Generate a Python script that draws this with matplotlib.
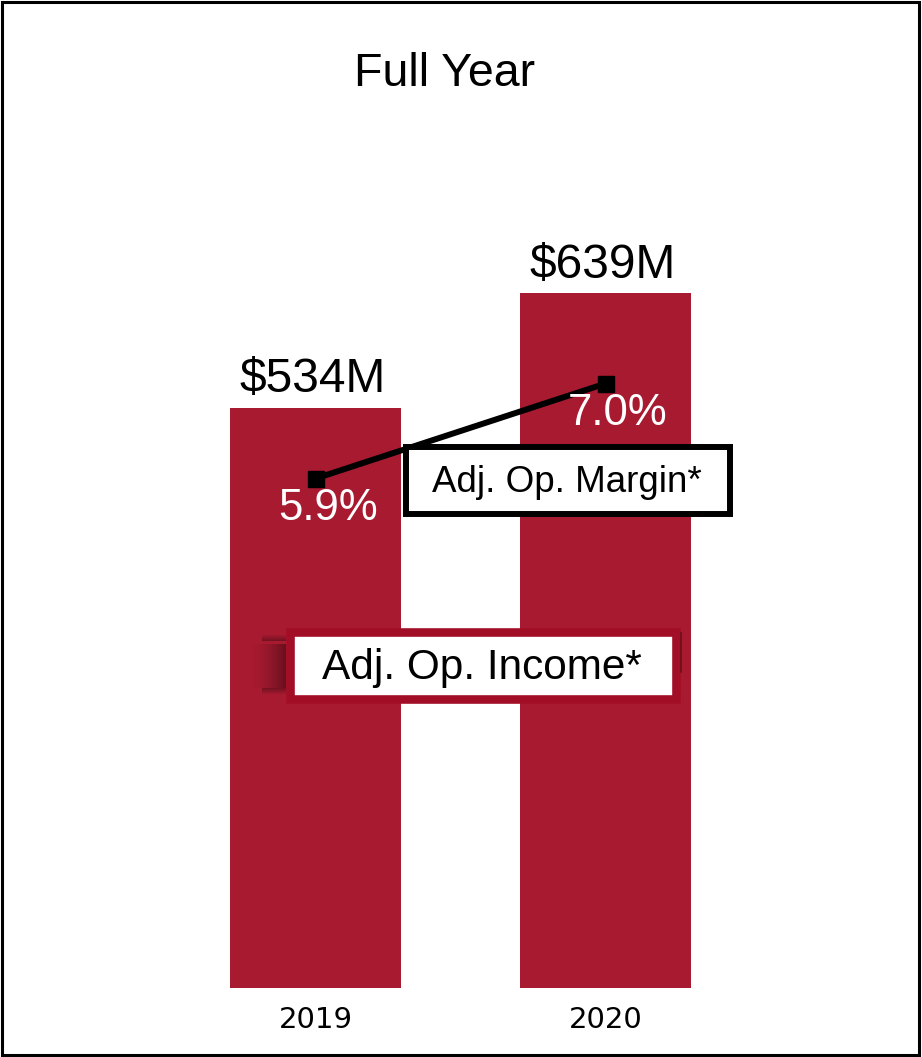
import matplotlib
matplotlib.use("Agg")
import matplotlib.pyplot as plt
import matplotlib.transforms as mtransforms
from matplotlib.patches import Rectangle

plt.rcParams['font.family'] = ['Liberation Sans', 'DejaVu Sans']

years = ['2019', '2020']
op_income = [534, 639]          # $M
op_margin = [5.9, 7.0]          # %

bar_red = '#A71A30'
box_red = '#A30E27'

W, H = 922, 1057
fig = plt.figure(figsize=(W / 100, H / 100), dpi=100)
# pixel coords measured from the top-left corner
px = mtransforms.Affine2D().scale(1 / W, -1 / H).translate(0, 1) + fig.transFigure

ax = fig.add_axes([170.5 / W, 69 / H, 580 / W, 888 / H])
x = list(range(len(years)))
ax.bar(x, op_income, width=0.59, color=bar_red)
ax.set_xlim(-0.5, 1.5)
ax.set_ylim(0, 888 / 1.087)
ax.set_xticks(x)
ax.set_xticklabels(years, fontsize=21, family='DejaVu Sans')
ax.tick_params(axis='x', length=0, pad=13)
ax.set_yticks([])
for s in ax.spines.values():
    s.set_visible(False)

for xi, v in zip(x, op_income):
    ax.annotate(f'${v}M', (xi, v), xytext=(-2, 11), textcoords='offset points',
                ha='center', va='baseline', fontsize=34.5)

# margin line on its own scale
ax2 = ax.twinx()
ax2.set_ylim(0, 888 / 86.35)
ax2.set_yticks([])
for s in ax2.spines.values():
    s.set_visible(False)
ax2.plot(x, op_margin, color='black', lw=4.3, marker='s', markersize=12)
for xi, m in zip(x, op_margin):
    ax2.annotate(f'{m:.1f}%', (xi, m), xytext=(9, -30), textcoords='offset points',
                 ha='center', va='baseline', fontsize=31.5, color='white')

fig.text(445, 86, 'Full Year', transform=px, ha='center', va='baseline', fontsize=33.5)

# income label box with soft shadow on its left
for i in range(36):
    a = 0.38 * (i / 35) ** 1.8
    fig.add_artist(Rectangle((250 + i, 644), 1.2, 44, transform=px,
                             facecolor='black', edgecolor='none', alpha=a, zorder=1))
for j in range(6):
    fig.add_artist(Rectangle((262, 640 - j), 24, 1, transform=px, facecolor='black',
                             edgecolor='none', alpha=0.05 * (6 - j), zorder=1))
    fig.add_artist(Rectangle((262, 688 + j), 24, 1, transform=px, facecolor='black',
                             edgecolor='none', alpha=0.05 * (6 - j), zorder=1))
fig.add_artist(Rectangle((289.5, 632), 386.5, 67, transform=px, facecolor='white',
                         edgecolor=box_red, lw=6.2, zorder=2))
fig.add_artist(plt.Line2D([681, 681], [633, 672], transform=px, color='#6b0f1c',
                          lw=1.2, zorder=2))
fig.text(482, 668, 'Adj. Op. Income*', transform=px, ha='center', va='center',
         fontsize=30.5, zorder=3)

# margin label box
fig.add_artist(Rectangle((406, 447), 324, 67, transform=px, facecolor='white',
                         edgecolor='black', lw=4.3, zorder=2))
fig.text(567, 482, 'Adj. Op. Margin*', transform=px, ha='center', va='center',
         fontsize=26.5, zorder=3)

# outer frame
fig.add_artist(Rectangle((2, 2), 917, 1053, transform=px, fill=False,
                         edgecolor='black', lw=2.2, zorder=4))

fig.savefig('out.png', dpi=100)
